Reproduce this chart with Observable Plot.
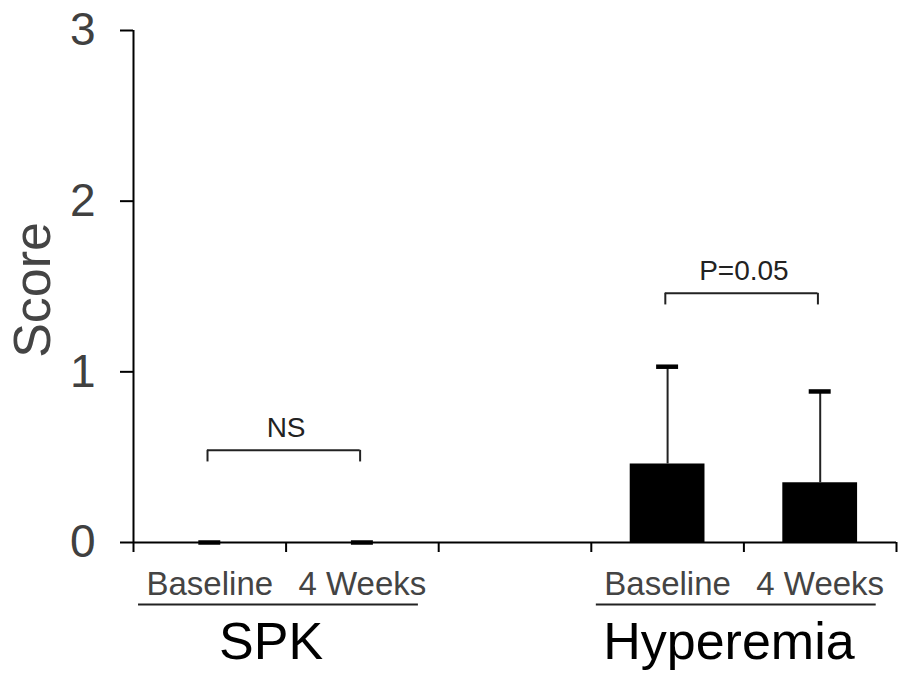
<!DOCTYPE html>
<html>
<head>
<meta charset="utf-8">
<script src="https://cdn.jsdelivr.net/npm/d3@7"></script>
<script src="https://cdn.jsdelivr.net/npm/@observablehq/plot@0.6"></script>
<style>
  html, body { margin: 0; padding: 0; background: white; }
</style>
</head>
<body>
<div id="chart"></div>
<script>
// ---- data ----
const groups = ["SPK", "Hyperemia"];
const timepoints = ["Baseline", "4 Weeks"];
const meanSPK = [0, 0];
const sdSPK = [0, 0];
const meanHyperemia = [0.46, 0.35];
const sdHyperemia = [0.57, 0.535];
const comparisonLabels = ["NS", "P=0.05"];
const comparisonLevels = [0.54, 1.46];
const yTicks = [0, 1, 2, 3];

// ---- derived table ----
const means = [meanSPK, meanHyperemia];
const sds = [sdSPK, sdHyperemia];
const rows = [];
groups.forEach((g, gi) => {
  timepoints.forEach((t, ti) => {
    rows.push({group: g, time: t, pos: gi * 3 + ti, mean: means[gi][ti], sd: sds[gi][ti]});
  });
});
const groupRows = groups.map((g, gi) => ({group: g, center: gi * 3 + 0.5}));
const brackets = groups.map((g, gi) => ({
  label: comparisonLabels[gi], level: comparisonLevels[gi],
  a: gi * 3, b: gi * 3 + 1
}));
const boundaries = d3.range(-0.5, 5, 1);

const legDrop = 0.068;
const legs = brackets.flatMap(d => [{x: d.a - 0.015, y1: d.level - legDrop, y2: d.level},
                                     {x: d.b - 0.015, y1: d.level - legDrop, y2: d.level}]);

const chart = Plot.plot({
  width: 898,
  height: 673,
  marginLeft: 133,
  marginRight: 2,
  marginTop: 30,
  marginBottom: 131,
  style: {fontFamily: "'Liberation Sans', Arial, sans-serif", background: "white"},
  x: {type: "linear", domain: [-0.5, 4.5], axis: null},
  y: {domain: [0, 3], axis: null},
  marks: [
    // bars
    Plot.rectY(rows, {x1: d => d.pos - 0.245, x2: d => d.pos + 0.245, y1: 0, y2: "mean", fill: "black"}),
    // error bars
    Plot.ruleX(rows, {x: "pos", y1: "mean", y2: d => d.mean + d.sd, stroke: "#222", strokeWidth: 2}),
    // x axis ticks at slot boundaries
    Plot.axisX({ticks: boundaries, tickSize: 10, tickFormat: () => "", stroke: "black", strokeWidth: 2, label: null}),
    // y axis
    Plot.axisY({ticks: yTicks, tickSize: 13, tickPadding: 25, tickFormat: d3.format("d"), fontSize: 46, stroke: "black", fill: "#404040", strokeWidth: 2, label: null}),
    Plot.ruleX([-0.5], {y1: 0, y2: 3, stroke: "black", strokeWidth: 2}),
    Plot.ruleY([0], {x1: -0.5, x2: 4.5, stroke: "black", strokeWidth: 2}),
    // caps
    Plot.ruleY(rows, {y: d => d.mean + d.sd, x1: d => d.pos - 0.072, x2: d => d.pos + 0.072, stroke: "black", strokeWidth: 4.5}),
    // comparison brackets
    Plot.ruleY(brackets, {y: "level", x1: d => d.a - 0.015, x2: d => d.b - 0.015, stroke: "#222", strokeWidth: 2}),
    Plot.ruleX(legs, {x: "x", y1: "y1", y2: "y2", stroke: "#222", strokeWidth: 2}),
    Plot.text(brackets, {x: d => (d.a + d.b) / 2, y: "level", text: "label", dy: -22, fontSize: 28, fill: "#222"}),
    // timepoint labels
    Plot.text(rows, {x: "pos", y: 0, text: "time", dy: 42, fontSize: 33, fill: "#444"}),
    // group underlines
    Plot.ruleY(groupRows, {y: 0, dy: 62, x1: d => d.center - 0.05 - 0.917, x2: d => d.center - 0.05 + 0.917, stroke: "#222", strokeWidth: 2}),
    // group labels
    Plot.text(groupRows, {x: "center", y: 0, text: "group", dy: 100, dx: -15, fontSize: 52, fill: "black"}),
    // y label
    Plot.text(["Score"], {x: -0.5, y: 1.48, dx: -100, rotate: -90, fontSize: 52, fill: "#444"})
  ]
});
document.getElementById("chart").appendChild(chart);
</script>
</body>
</html>
